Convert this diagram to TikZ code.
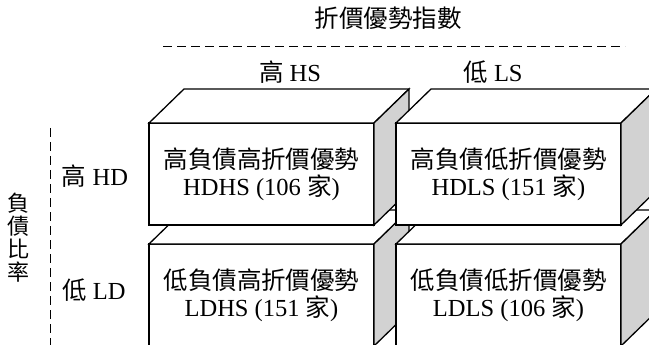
\documentclass[tikz,border=0pt]{standalone}
\usepackage{fontspec}
\setmainfont{Liberation Serif}
\newfontfamily\cjk{Noto Sans CJK TC}
\definecolor{sidegray}{RGB}{210,210,210}
\newcommand\drawblock[1]{%
  \draw[boxline] (#1.north west) -- ++(35,-34) -- ++(225,0) -- (#1.north east) -- cycle;
  \draw[boxline, fill=sidegray] (#1.north east) -- ++(35,-34) -- ++(0,102) -- (#1.south east) -- cycle;
}
\begin{document}
\begin{tikzpicture}[x=1pt,y=-1pt,
  boxline/.style={draw, line width=1.3pt, fill=white, line join=miter},
  front/.style={boxline, minimum width=225pt, minimum height=102pt, outer sep=0pt, inner sep=0pt, align=center, font=\fontsize{24.5}{27}\selectfont},
  lab/.style={font=\fontsize{24.5}{27}\selectfont, inner sep=0pt},
  dashline/.style={line width=1pt, dash pattern=on 9pt off 5pt}]
\useasboundingbox (0,0) rectangle (649,345);

% lower row first, then upper row
\node[front] (ldhs) at (261.5,295) {{\cjk 低負債高折價優勢}\\LDHS (151 {\cjk 家})};
\drawblock{ldhs}
\node[front] (ldls) at (508.5,295) {{\cjk 低負債低折價優勢}\\LDLS (106 {\cjk 家})};
\drawblock{ldls}
\node[front] (hdhs) at (261.5,174) {{\cjk 高負債高折價優勢}\\HDHS (106 {\cjk 家})};
\drawblock{hdhs}
\node[front] (hdls) at (508.5,174) {{\cjk 高負債低折價優勢}\\HDLS (151 {\cjk 家})};
\drawblock{hdls}

% labels
\node[lab] (title) at (388,18) {\cjk 折價優勢指數};
\node[lab] (hs) at (290,72) {{\cjk 高} HS};
\node[lab] (ls) at (493,72) {{\cjk 低} LS};
\node[lab] (hd) at (95,176) {{\cjk 高} HD};
\node[lab] (ld) at (94,290) {{\cjk 低} LD};
\node[lab, align=center, font=\cjk\fontsize{22}{23}\selectfont] (dr) at (18,238) {負\\債\\比\\率};

% dashed separators
\coordinate (h1) at (163,47);
\coordinate (h2) at (625,47);
\coordinate (v1) at (50,128);
\coordinate (v2) at (50,345);
\draw[dashline] (h1) -- (h2);
\draw[dashline] (v1) -- (v2);
\end{tikzpicture}
\end{document}
